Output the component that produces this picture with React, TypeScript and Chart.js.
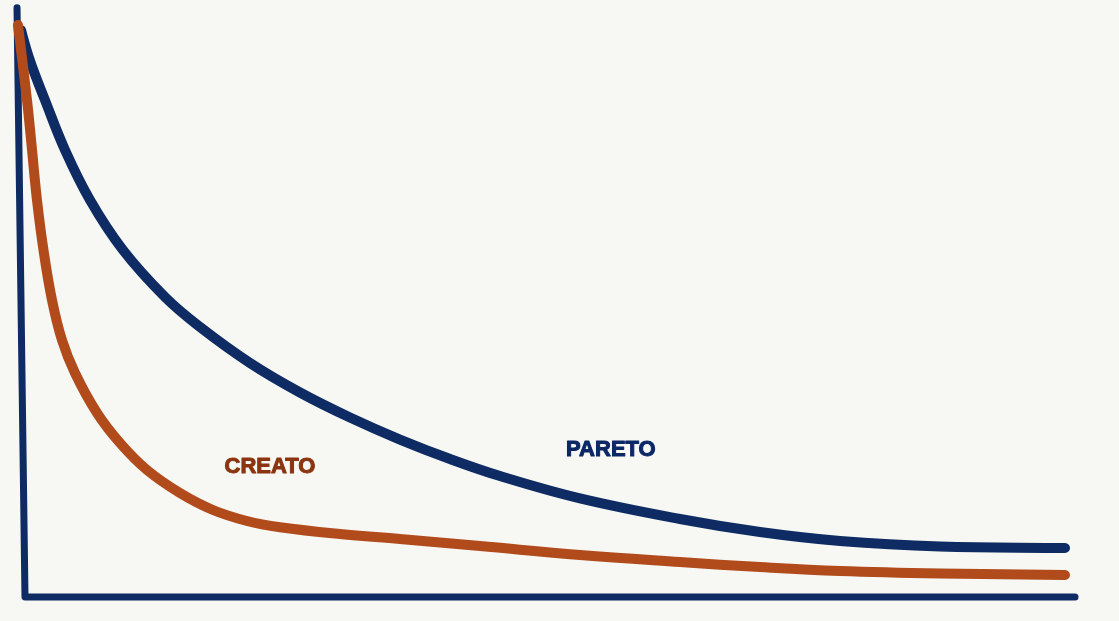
import React, { useEffect, useRef } from "react";
import { Chart, registerables } from "chart.js";

Chart.register(...registerables);

// Rank (x, 0..100) and share (y, 0..100)
const paretoX = [-0.76, -0.38, 0.48, 1.9, 3.81, 6.19, 9.33, 13.33, 16.67, 21.43, 26.19, 30.95, 35.71, 40.48, 45.24, 52.86, 62.38, 70.0, 77.62, 87.14, 99.05];
const paretoY = [102.27, 99.13, 93.71, 86.89, 78.15, 69.41, 60.66, 52.45, 47.2, 40.91, 35.75, 31.38, 27.53, 24.13, 21.15, 17.24, 13.64, 11.36, 9.79, 8.83, 8.57];

const creatoX = [-0.67, 0.19, 0.67, 1.14, 1.76, 2.57, 3.52, 4.76, 6.86, 9.05, 11.62, 14.76, 17.9, 21.14, 24.29, 30.0, 35.71, 43.33, 52.86, 62.38, 70.0, 77.62, 87.14, 99.05];
const creatoY = [100, 86.89, 78.15, 69.41, 60.66, 51.92, 44.93, 39.16, 32.17, 26.92, 22.2, 18.18, 15.21, 13.29, 12.2, 11.01, 10.14, 8.92, 7.34, 6.12, 5.24, 4.55, 4.11, 3.85];

const axisX = [-0.76, 0, 100];
const axisY = [103, 0, 0];

const labelNames = ["CREATO", "PARETO"];
const labelX = [23.33, 55.8];
const labelY = [22.7, 25.7];

const NAVY = "#0e2b63";
const ORANGE = "#b24b1b";
const CREATO_TEXT = "#8a3510";
const PARETO_TEXT = "#0b2766";
const BG = "#f7f7f3";

const zip = (xs: number[], ys: number[]) => xs.map((x, i) => ({ x, y: ys[i] }));

const labelPlugin = {
  id: "curveLabels",
  afterDatasetsDraw(chart: any) {
    const { ctx, scales } = chart;
    ctx.save();
    ctx.font = "bold 22px 'Liberation Sans', Arial, sans-serif";
    ctx.textAlign = "center";
    ctx.textBaseline = "middle";
    ctx.lineWidth = 1;
    ctx.lineJoin = "round";
    labelNames.forEach((name, i) => {
      const c = i === 0 ? CREATO_TEXT : PARETO_TEXT;
      ctx.fillStyle = c;
      ctx.strokeStyle = c;
      const px = scales.x.getPixelForValue(labelX[i]);
      const py = scales.y.getPixelForValue(labelY[i]);
      ctx.fillText(name, px, py);
      ctx.strokeText(name, px, py);
    });
    ctx.restore();
  },
};

export default function App() {
  const ref = useRef<HTMLCanvasElement | null>(null);
  useEffect(() => {
    if (!ref.current) return;
    const chart = new Chart(ref.current, {
      type: "line",
      data: {
        datasets: [
          {
            label: "CREATO",
            data: zip(creatoX, creatoY),
            borderColor: ORANGE,
            borderWidth: 10,
            borderCapStyle: "round",
            borderJoinStyle: "round",
            tension: 0.4,
            pointRadius: 0,
            clip: false,
            order: 0,
          } as any,
          {
            label: "PARETO",
            data: zip(paretoX, paretoY),
            borderColor: NAVY,
            borderWidth: 10,
            borderCapStyle: "round",
            borderJoinStyle: "round",
            tension: 0.4,
            pointRadius: 0,
            clip: false,
            order: 1,
          } as any,
          {
            label: "axes",
            data: zip(axisX, axisY),
            borderColor: NAVY,
            borderWidth: 7,
            borderCapStyle: "round",
            borderJoinStyle: "round",
            tension: 0,
            pointRadius: 0,
            clip: false,
            order: 2,
          } as any,
        ],
      },
      options: {
        animation: false,
        responsive: false,
        maintainAspectRatio: false,
        layout: { padding: { left: 25, right: 44, top: 25, bottom: 24 } },
        scales: {
          x: { type: "linear", min: 0, max: 100, display: false },
          y: { type: "linear", min: 0, max: 100, display: false },
        },
        plugins: { legend: { display: false }, tooltip: { enabled: false } },
        events: [],
      },
      plugins: [labelPlugin],
    });
    return () => chart.destroy();
  }, []);
  return (
    <div style={{ position: "fixed", left: 0, top: 0, width: 1119, height: 621, background: BG }}>
      <canvas ref={ref} width={1119} height={621} style={{ display: "block", width: 1119, height: 621 }} />
    </div>
  );
}
